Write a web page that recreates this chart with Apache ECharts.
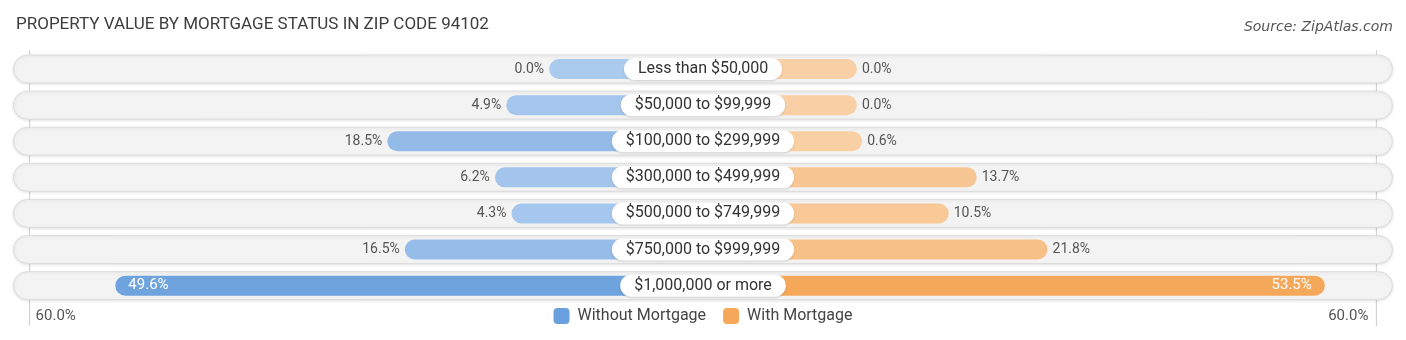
<!DOCTYPE html>
<html>
<head>
<meta charset="utf-8">
<script src="https://cdn.jsdelivr.net/npm/echarts@6/dist/echarts.min.js"></script>
<style>
  html, body { margin: 0; padding: 0; background: #fff; }
  #chart { width: 1406px; height: 340px; }
</style>
</head>
<body>
<div id="chart"></div>
<script>
// Property value brackets, top to bottom
const categories = [
  'Less than $50,000',
  '$50,000 to $99,999',
  '$100,000 to $299,999',
  '$300,000 to $499,999',
  '$500,000 to $749,999',
  '$750,000 to $999,999',
  '$1,000,000 or more'
];
// Share of units (%) in each bracket
const withoutMortgage = [0.0, 4.9, 18.5, 6.2, 4.3, 16.5, 49.6];
const withMortgage    = [0.0, 0.0, 0.6, 13.7, 10.5, 21.8, 53.5];
const seriesNames = ['Without Mortgage', 'With Mortgage'];
const edgeTickLabels = ['60.0%', '60.0%'];

// every bar starts from a fixed stub so the centre label never hides it
const STUB = 17.6;
const AXIS_HALF = 78.9;
const GUIDE_AT = 77;
const INSIDE_FROM = 40;

function mix(a, b, t) {
  const pa = a.match(/\w\w/g).map(h => parseInt(h, 16));
  const pb = b.match(/\w\w/g).map(h => parseInt(h, 16));
  return '#' + pa.map((v, i) => Math.round(v + (pb[i] - v) * t).toString(16).padStart(2, '0')).join('');
}
const BLUE_LIGHT = '#aacaee', BLUE_DARK = '#6aa0dd';
const ORANGE_LIGHT = '#f9d0a5', ORANGE_DARK = '#f5a85a';
const maxAll = Math.max(...withoutMortgage, ...withMortgage);

const fmt = v => v.toFixed(1) + '%';
const textFont = 'Roboto, "Noto Sans", sans-serif';

function barData(values, sign, light, dark) {
  return values.map(v => ({
    value: sign * (STUB + v),
    itemStyle: { color: mix(light, dark, v / maxAll) }
  }));
}

function labelData(values, sign) {
  return values.map((v, i) => {
    const inside = v >= INSIDE_FROM;
    let pos;
    if (sign < 0) pos = inside ? 'right' : 'left';
    else pos = inside ? 'left' : 'right';
    return {
      value: [sign * (STUB + v), categories[i]],
      raw: v,
      label: {
        position: pos,
        distance: inside ? 13 : 5,
        color: inside ? '#ffffff' : '#555555',
        fontSize: inside ? 15 : 14
      }
    };
  });
}

const chart = echarts.init(document.getElementById('chart'), null, { renderer: 'canvas' });

const option = {
  backgroundColor: '#ffffff',
  animation: false,
  title: [
    {
      text: 'PROPERTY VALUE BY MORTGAGE STATUS IN ZIP CODE 94102',
      left: 11, top: 11,
      textStyle: { fontFamily: 'Roboto, sans-serif', fontWeight: 'normal', fontSize: 17, color: '#3d3d3d' }
    },
    {
      text: 'Source: ZipAtlas.com',
      right: 8, top: 15,
      textStyle: { fontFamily: '"DejaVu Sans", sans-serif', fontStyle: 'italic', fontWeight: 'normal', fontSize: 14, color: '#555555' }
    }
  ],
  legend: {
    data: seriesNames,
    bottom: 11,
    left: 'center',
    icon: 'roundRect',
    itemWidth: 16,
    itemHeight: 16,
    itemGap: 17,
    textStyle: { fontFamily: textFont, fontSize: 16, color: '#444444', padding: [0, 0, 0, 3] }
  },
  grid: { left: 13, right: 13, top: 51, bottom: 36.3 },
  xAxis: [
    { type: 'value', min: -AXIS_HALF, max: AXIS_HALF, show: false },
    { type: 'value', min: 0, max: 1, show: false }
  ],
  yAxis: [
    { type: 'category', data: categories, inverse: true, show: false },
    { type: 'category', data: categories, inverse: true, show: false }
  ],
  series: [
    {
      name: 'rows',
      type: 'bar',
      xAxisIndex: 1, yAxisIndex: 1,
      data: categories.map(() => 1),
      barWidth: 29,
      silent: true,
      itemStyle: {
        color: '#f3f3f3',
        borderColor: '#dddddd',
        borderWidth: 1,
        borderRadius: 14.5,
        shadowColor: 'rgba(0,0,0,0.10)',
        shadowBlur: 3,
        shadowOffsetY: 1
      },
      z: 1
    },
    {
      name: seriesNames[0],
      type: 'bar',
      stack: 'm',
      data: barData(withoutMortgage, -1, BLUE_LIGHT, BLUE_DARK),
      barWidth: 20,
      itemStyle: { color: BLUE_DARK, borderRadius: [10, 0, 0, 10] },
      z: 2
    },
    {
      name: seriesNames[1],
      type: 'bar',
      stack: 'm',
      data: barData(withMortgage, 1, ORANGE_LIGHT, ORANGE_DARK),
      barWidth: 20,
      itemStyle: { color: ORANGE_DARK, borderRadius: [0, 10, 10, 0] },
      z: 2
    },
    {
      name: 'leftLabels',
      type: 'scatter',
      symbolSize: 0,
      silent: true,
      itemStyle: { opacity: 1 },
      data: labelData(withoutMortgage, -1),
      label: {
        show: true,
        fontFamily: textFont,
        formatter: p => fmt(p.data.raw)
      },
      z: 3
    },
    {
      name: 'rightLabels',
      type: 'scatter',
      symbolSize: 0,
      silent: true,
      itemStyle: { opacity: 1 },
      data: labelData(withMortgage, 1),
      label: {
        show: true,
        fontFamily: textFont,
        formatter: p => fmt(p.data.raw)
      },
      z: 3
    },
    {
      name: 'categoryLabels',
      type: 'scatter',
      symbolSize: 0,
      silent: true,
      itemStyle: { opacity: 1 },
      data: categories.map(c => [0, c]),
      label: {
        show: true,
        position: 'inside',
        formatter: p => categories[p.dataIndex],
        fontFamily: textFont,
        fontSize: 16,
        color: '#333333',
        backgroundColor: '#ffffff',
        borderRadius: 11.5,
        padding: [3, 14, 3, 14],
        shadowColor: 'rgba(0,0,0,0.15)',
        shadowBlur: 2,
        shadowOffsetY: 1
      },
      z: 4
    }
  ]
};

chart.setOption(option);

// guide lines at the outer scale edges, with their tick labels below the rows
const xl = chart.convertToPixel({ xAxisIndex: 0 }, -GUIDE_AT);
const xr = chart.convertToPixel({ xAxisIndex: 0 }, GUIDE_AT);
chart.setOption({
  graphic: [
    { type: 'line', shape: { x1: xl, y1: 50, x2: xl, y2: 326 }, style: { stroke: '#cccccc', lineWidth: 1 }, z: 0, silent: true },
    { type: 'line', shape: { x1: xr, y1: 50, x2: xr, y2: 326 }, style: { stroke: '#cccccc', lineWidth: 1 }, z: 0, silent: true },
    { type: 'text', left: xl + 6, top: 309, style: { text: edgeTickLabels[0], font: '15px ' + textFont, fill: '#555555' }, silent: true },
    { type: 'text', right: 1406 - xr + 8, top: 309, style: { text: edgeTickLabels[1], font: '15px ' + textFont, fill: '#555555' }, silent: true }
  ]
});
</script>
</body>
</html>
